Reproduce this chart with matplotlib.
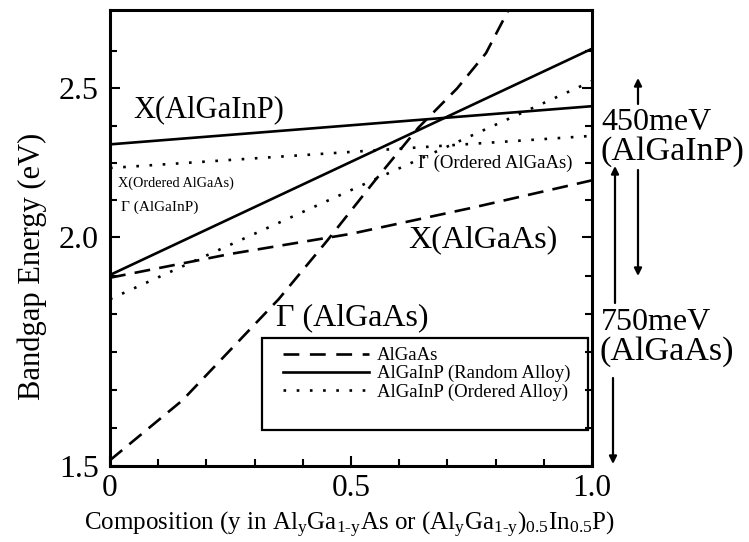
import numpy as np
import matplotlib
matplotlib.use("Agg")
import matplotlib.pyplot as plt
from matplotlib.patches import Rectangle, FancyArrowPatch

plt.rcParams['font.family'] = ['Liberation Serif', 'DejaVu Serif']
plt.rcParams['mathtext.fontset'] = 'custom'
plt.rcParams['mathtext.rm'] = 'Liberation Serif'
plt.rcParams['mathtext.it'] = 'Liberation Serif:italic'

# ---- data: bandgap energies (eV) versus Al composition y ----
y_two = [0.0, 1.0]

x_algainp_random = [2.29, 2.43]        # X valley, AlGaInP (random alloy)
g_algainp_random = [1.90, 2.67]        # Gamma valley, AlGaInP (random alloy)
x_algainp_ordered = [2.21, 2.32]       # X valley, ordered alloy
g_algainp_ordered = [1.84, 2.53]       # Gamma valley, ordered alloy

y_x_algaas = [0.0, 0.25, 0.5, 0.75, 1.0]
x_algaas = [1.893, 1.955, 2.01, 2.085, 2.17]

y_g_algaas = [0.0, 0.15, 0.35, 0.45, 0.55, 0.64, 0.72, 0.78, 0.83]
g_algaas = [1.51, 1.62, 1.84, 1.99, 2.17, 2.35, 2.50, 2.65, 2.87]

x_ticks = [0, 0.5, 1.0]
x_ticklabels = ['0', '0.5', '1.0']
y_ticks = [1.5, 2.0, 2.5]
y_ticklabels = ['1.5', '2.0', '2.5']

legend_labels = ['AlGaAs', 'AlGaInP (Random Alloy)', 'AlGaInP (Ordered Alloy)']

# ---- energy axis: compressed power-law scale ----
P = -0.68


def fwd(e):
    e = np.asarray(e, dtype=float)
    return -np.power(np.clip(e, 1e-6, None), P)


def inv(v):
    v = np.asarray(v, dtype=float)
    return np.power(np.clip(-v, 1e-6, None), 1.0 / P)


fig = plt.figure(figsize=(7.49, 5.42), dpi=100)
W, H = 749.0, 542.0
ax = fig.add_axes([110 / W, 1 - 466 / H, 482 / W, 456 / H])
ax.set_yscale('function', functions=(fwd, inv))
ax.set_xlim(0, 1.0)
ax.set_ylim(1.5, 2.855)

lw = 1.9
dash = (0, (6, 3.5))
dot = (0, (1, 4))

ax.plot(y_two, x_algainp_random, color='black', lw=lw, solid_capstyle='butt')
ax.plot(y_two, g_algainp_random, color='black', lw=lw, solid_capstyle='butt')
ax.plot(y_two, x_algainp_ordered, color='black', lw=lw, linestyle=dot)
ax.plot(y_two, g_algainp_ordered, color='black', lw=lw, linestyle=dot)
ax.plot(y_x_algaas, x_algaas, color='black', lw=lw, linestyle=dash)
ax.plot(y_g_algaas, g_algaas, color='black', lw=lw, linestyle=dash)

# ticks
ax.set_xticks(x_ticks)
ax.set_xticklabels(x_ticklabels)
ax.set_xticks(np.round(np.arange(0.1, 1.0, 0.1), 2), minor=True)
ax.set_yticks(y_ticks)
ax.set_yticklabels(y_ticklabels)
f15, f20, f25 = fwd(1.5), fwd(2.0), fwd(2.5)
lower = np.linspace(f15, f20, 7)[1:-1]
upper = np.linspace(f20, f25, 5)[1:-1]
step = (f25 - f20) / 4
top_minor = [f25 + step]
ax.set_yticks(inv(np.concatenate([lower, upper, top_minor])), minor=True)

ax.tick_params(which='both', direction='in', right=True, top=False, width=1.5,
               labelsize=23)
ax.tick_params(which='major', length=7)
ax.tick_params(which='minor', length=5)
ax.tick_params(axis='x', pad=6, labelsize=22.5)
ax.tick_params(axis='y', pad=8)
for s in ax.spines.values():
    s.set_linewidth(2.2)

ax.set_ylabel('Bandgap Energy (eV)', fontsize=22)
ax.yaxis.set_label_coords(-0.13, (466 - 266) / 456)
fig.text(350 / W, 1 - 525 / H,
         r'Composition (y in Al$_{\mathrm{y}}$Ga$_{\mathrm{1\text{-}y}}$As or '
         r'(Al$_{\mathrm{y}}$Ga$_{\mathrm{1\text{-}y}}$)$_{\mathrm{0.5}}$In$_{\mathrm{0.5}}$P)',
         fontsize=18, ha='center', va='center')

# curve labels
ax.text(0.048, 0.781, 'X(AlGaInP)', transform=ax.transAxes, fontsize=22, va='center')
ax.text(0.017, 0.621, 'X(Ordered AlGaAs)', transform=ax.transAxes, fontsize=10.3, va='center')
ax.text(0.023, 0.568, 'Γ (AlGaInP)', transform=ax.transAxes, fontsize=11, va='center')
ax.text(0.639, 0.664, 'Γ (Ordered AlGaAs)', transform=ax.transAxes, fontsize=13.5, va='center')
ax.text(0.618, 0.496, 'X(AlGaAs)', transform=ax.transAxes, fontsize=23, va='center')
ax.text(0.344, 0.325, 'Γ (AlGaAs)', transform=ax.transAxes, fontsize=23, va='center')

# legend
handles = [
    plt.Line2D([], [], color='black', lw=lw, linestyle=(0, (6, 4))),
    plt.Line2D([], [], color='black', lw=lw),
    plt.Line2D([], [], color='black', lw=lw, linestyle=dot),
]
ax.legend(handles, legend_labels, loc='upper left',
          bbox_to_anchor=((270 - 110) / 482, (466 - 334) / 456),
          frameon=False, fontsize=13.5, handlelength=4.6, handletextpad=0.4,
          labelspacing=0.05, borderpad=0.2)
ax.add_patch(Rectangle(((262 - 110) / 482, (466 - 430) / 456),
                       (588 - 262) / 482, (430 - 338) / 456,
                       transform=ax.transAxes, fill=False, lw=1.6,
                       edgecolor='black', zorder=4))


# energy-range annotations beside the axes
def fp(x, y):
    return (x / W, 1 - y / H)


for txt, (px, py), fs in [('450meV', (657, 122), 23), ('(AlGaInP)', (672, 152), 24.5),
                          ('750meV', (656, 322), 23), ('(AlGaAs)', (667, 352), 24.5)]:
    fig.text(*fp(px, py), txt, fontsize=fs, ha='center', va='center')

for (x0, y0, x1, y1) in [(638, 104, 638, 78), (638, 170, 638, 276),
                         (615, 303, 615, 166), (613, 378, 613, 464)]:
    fig.add_artist(FancyArrowPatch(fp(x0, y0), fp(x1, y1),
                                   transform=fig.transFigure,
                                   arrowstyle='-|>', mutation_scale=11,
                                   lw=1.6, color='black',
                                   shrinkA=0, shrinkB=0))

fig.savefig('out.png', dpi=100)
